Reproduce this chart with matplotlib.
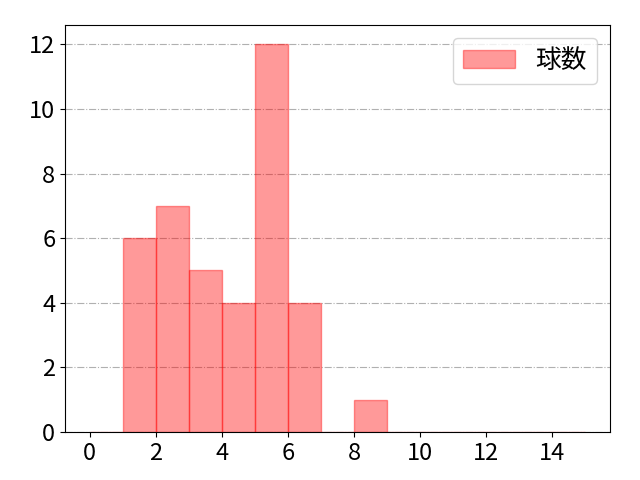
import numpy as np
import matplotlib
matplotlib.use("Agg")
from matplotlib import pyplot as plt

plt.rcParams['font.family'] = ['Noto Sans CJK JP', 'DejaVu Sans']
plt.rcParams['font.size'] = 17

# pitch counts per bin (bins 0..15, width 1)
bin_edges = list(range(0, 16))
counts = [0, 6, 7, 5, 4, 12, 4, 0, 1, 0, 0, 0, 0, 0, 0]
label = "球数"

fig, ax = plt.subplots(figsize=(6.4, 4.8), dpi=100)
ax.hist(bin_edges[:-1], bins=bin_edges, weights=counts,
        color="red", alpha=0.4, edgecolor="red", label=label)
ax.set_xticks(np.arange(0, 15, 2))
ax.grid(axis="y", linestyle="-.")
ax.set_axisbelow(True)
ax.legend(loc="upper right", fontsize=18.5)
fig.subplots_adjust(left=65/640, right=610/640, top=1-25/480, bottom=1-432/480)
fig.savefig("out.png")
